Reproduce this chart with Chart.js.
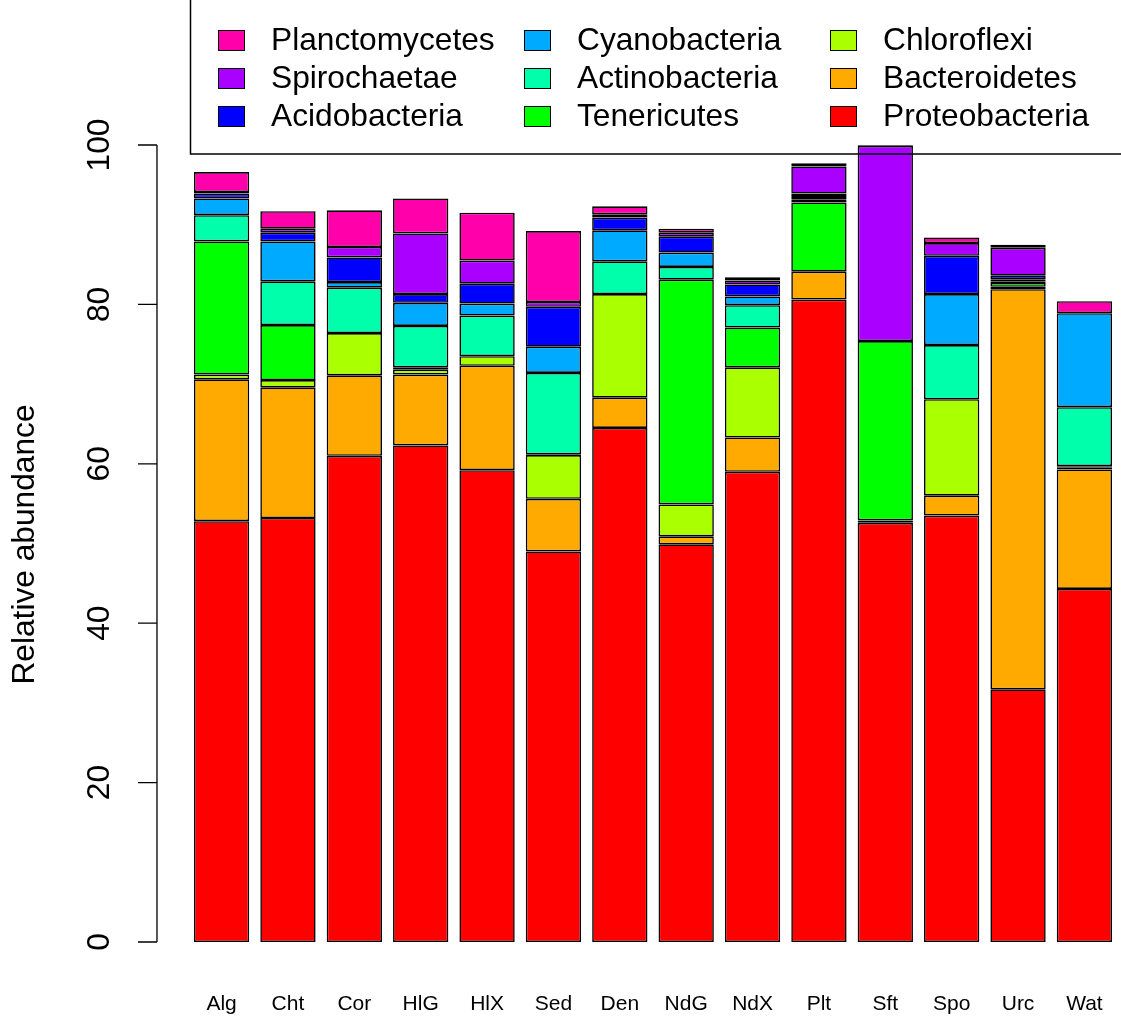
<!DOCTYPE html>
<html>
<head>
<meta charset="utf-8">
<script src="https://cdn.jsdelivr.net/npm/chart.js@4.4.0/dist/chart.umd.min.js"></script>
<style>
  html, body { margin: 0; padding: 0; background: #fff; }
  canvas { display: block; }
</style>
</head>
<body>
<canvas id="chart" width="1121" height="1017"></canvas>
<script>
// Amostras e filos
const samples = ['Alg', 'Cht', 'Cor', 'HlG', 'HlX', 'Sed', 'Den', 'NdG', 'NdX', 'Plt', 'Sft', 'Spo', 'Urc', 'Wat'];
const phyla = ['Proteobacteria', 'Bacteroidetes', 'Chloroflexi', 'Tenericutes', 'Actinobacteria',
               'Cyanobacteria', 'Acidobacteria', 'Spirochaetae', 'Planctomycetes'];
const phylumColours = ['#FF0000', '#FFAA00', '#AAFF00', '#00FF00', '#00FFAA', '#00AAFF', '#0000FF', '#AA00FF', '#FF00AA'];
const yTicks = [0, 20, 40, 60, 80, 100];

// Abundância relativa (%) por filo, na ordem das amostras
const proteobacteria = [52.8, 53.2, 61.0, 62.3, 59.2, 49.0, 64.5, 49.9, 59.0, 80.6, 52.6, 53.5, 31.7, 44.3];
const bacteroidetes  = [17.8, 16.4, 10.1, 8.9, 13.1, 6.6, 3.8, 1.0, 4.3, 3.5, 0.3, 2.5, 50.2, 15.0];
const chloroflexi    = [0.6, 0.9, 5.3, 0.6, 1.2, 5.5, 13.0, 4.0, 8.8, 0, 0, 12.1, 0.3, 0.2];
const tenericutes    = [16.7, 6.9, 0, 0.3, 0, 0.1, 0, 28.2, 5.0, 8.7, 22.5, 0, 0.5, 0.2];
const actinobacteria = [3.3, 5.5, 5.7, 5.2, 5.1, 10.2, 4.1, 1.6, 2.8, 0.4, 0, 6.8, 0.2, 7.4];
const cyanobacteria  = [2.1, 5.0, 0.7, 2.9, 1.5, 3.3, 3.9, 1.8, 1.1, 0.4, 0, 6.4, 0.2, 11.8];
const acidobacteria  = [0.6, 1.1, 3.1, 1.1, 2.5, 5.0, 1.6, 2.0, 1.5, 0.3, 0, 4.8, 0.5, 0];
const spirochaetae   = [0.2, 0.5, 1.3, 7.6, 2.9, 0.6, 0.4, 0.5, 0.5, 3.4, 24.5, 1.6, 3.5, 0];
const planctomycetes = [2.5, 2.2, 4.6, 4.4, 6.0, 8.9, 1.0, 0.5, 0.4, 0.4, 0.1, 0.7, 0.4, 1.5];

const series = [proteobacteria, bacteroidetes, chloroflexi, tenericutes, actinobacteria,
                cyanobacteria, acidobacteria, spirochaetae, planctomycetes];

const FONT = '"Liberation Sans", Arial, Helvetica, sans-serif';
Chart.defaults.font.family = FONT;
Chart.defaults.color = '#000';

// Eixos no estilo do R (rótulos girados), título e legenda dentro da caixa
const rAxisPlugin = {
    id: 'rAxis',
    afterDraw(chart) {
        const ctx = chart.ctx;
        const x = chart.scales.x;
        const y = chart.scales.y;
        const axisX = x.getPixelForValue(0) - 64.6;

        ctx.save();
        ctx.strokeStyle = '#000';
        ctx.lineWidth = 1.3;
        ctx.beginPath();
        ctx.moveTo(axisX, y.getPixelForValue(yTicks[0]));
        ctx.lineTo(axisX, y.getPixelForValue(yTicks[yTicks.length - 1]));
        yTicks.forEach(t => {
            const py = y.getPixelForValue(t);
            ctx.moveTo(axisX, py);
            ctx.lineTo(axisX - 19, py);
        });
        ctx.stroke();

        ctx.fillStyle = '#000';
        ctx.font = '31.7px ' + FONT;
        ctx.textAlign = 'center';
        ctx.textBaseline = 'middle';
        yTicks.forEach(t => {
            ctx.save();
            ctx.translate(100, y.getPixelForValue(t));
            ctx.rotate(-Math.PI / 2);
            ctx.fillText(String(t), 0, 0);
            ctx.restore();
        });
        ctx.save();
        ctx.translate(25, (y.getPixelForValue(0) + y.getPixelForValue(100)) / 2 + 1);
        ctx.rotate(-Math.PI / 2);
        ctx.fillText('Relative abundance', 0, 0);
        ctx.restore();

        // nomes das amostras
        ctx.font = '21px ' + FONT;
        samples.forEach((s, i) => {
            ctx.fillText(s, x.getPixelForValue(i), 1004);
        });

        // Legenda
        ctx.lineWidth = 1.5;
        ctx.strokeRect(190.5, -2, 1000, 156);
        const ds = chart.data.datasets;
        ctx.textAlign = 'left';
        ctx.font = '31.7px ' + FONT;
        for (let i = 0; i < ds.length; i++) {
            const d = ds[ds.length - 1 - i];
            const col = Math.floor(i / 3);
            const row = i % 3;
            const sx = 218 + col * 306;
            const sy = 40 + row * 38;
            ctx.fillStyle = d.backgroundColor;
            ctx.fillRect(sx, sy - 10, 27, 21);
            ctx.lineWidth = 1;
            ctx.strokeRect(sx + 0.5, sy - 9.5, 26, 20);
            ctx.fillStyle = '#000';
            ctx.fillText(d.label, sx + 53, sy + 1);
        }
        ctx.restore();
    }
};

const datasets = phyla.map((name, i) => ({
    label: name,
    data: series[i],
    backgroundColor: phylumColours[i],
    borderColor: '#000',
    borderWidth: 1.6,
    borderSkipped: false,
    barPercentage: 1,
    categoryPercentage: 1 / 1.2
}));

const myChart = new Chart(document.getElementById('chart'), {
    type: 'bar',
    data: { labels: samples, datasets: datasets },
    options: {
        responsive: false,
        animation: false,
        devicePixelRatio: 1,
        layout: { padding: { left: 188.4, right: 3.4, top: 145, bottom: 75 } },
        plugins: {
            legend: { display: false },
            tooltip: { enabled: false }
        },
        scales: {
            x: {
                stacked: true,
                grid: { display: false, drawTicks: false },
                border: { display: false },
                ticks: { display: false }
            },
            y: {
                stacked: true,
                display: false,
                min: 0,
                max: 100
            }
        }
    },
    plugins: [rAxisPlugin]
});
</script>
</body>
</html>
